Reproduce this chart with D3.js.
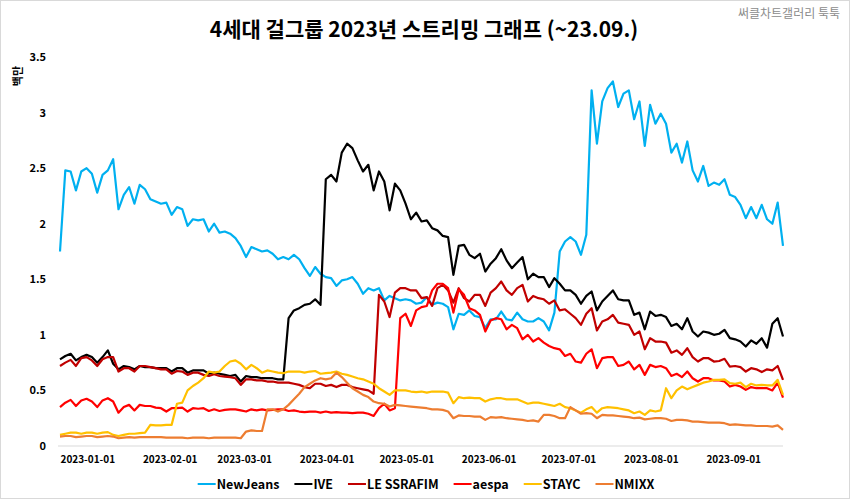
<!DOCTYPE html>
<html>
<head>
<meta charset="utf-8">
<script src="https://cdn.jsdelivr.net/npm/d3@7/dist/d3.min.js"></script>
<style>
  body { margin: 0; background: #fff; }
  svg { display: block; font-family: "Noto Sans CJK KR", "Noto Sans", sans-serif; }
</style>
</head>
<body>
<svg id="chart" width="850" height="499"></svg>
<script>
// daily streams (millions), read every 2nd day starting 2023-01-01
var startDate = '2023-01-01';
var endDate = '2023-09-30';
var dayStep = 2;

var newJeans = [
  1.75, 2.48, 2.47, 2.30, 2.47, 2.50, 2.45, 2.28, 2.44, 2.48,
  2.58, 2.13, 2.26, 2.33, 2.18, 2.35, 2.31, 2.22, 2.20, 2.18,
  2.19, 2.08, 2.15, 2.13, 1.98, 2.04, 2.03, 2.04, 1.93, 2.00,
  1.92, 1.93, 1.91, 1.87, 1.80, 1.70, 1.79, 1.77, 1.75, 1.76,
  1.73, 1.68, 1.70, 1.68, 1.72, 1.68, 1.60, 1.53, 1.61, 1.55,
  1.52, 1.51, 1.44, 1.49, 1.50, 1.52, 1.46, 1.37, 1.42, 1.40,
  1.42, 1.31, 1.35, 1.33, 1.31, 1.32, 1.31, 1.28, 1.29, 1.34,
  1.27, 1.29, 1.28, 1.25, 1.05, 1.19, 1.18, 1.22, 1.17, 1.16,
  1.06, 1.14, 1.14, 1.21, 1.14, 1.13, 1.20, 1.14, 1.12, 1.12,
  1.15, 1.12, 1.04, 1.20, 1.75, 1.84, 1.88, 1.84, 1.72, 1.90,
  3.20, 2.72, 3.10, 3.22, 3.28, 3.05, 3.17, 3.20, 2.94, 3.10,
  2.70, 3.07, 2.90, 2.99, 2.90, 2.64, 2.72, 2.55, 2.74, 2.48,
  2.38, 2.52, 2.34, 2.37, 2.35, 2.40, 2.26, 2.24, 2.17, 2.05,
  2.15, 2.05, 2.17, 2.04, 2.00, 2.19, 1.80
];
var ive = [
  0.78, 0.81, 0.83, 0.77, 0.80, 0.82, 0.80, 0.75, 0.80, 0.86,
  0.74, 0.69, 0.72, 0.71, 0.69, 0.72, 0.71, 0.71, 0.70, 0.70,
  0.70, 0.67, 0.70, 0.70, 0.66, 0.68, 0.68, 0.68, 0.65, 0.66,
  0.65, 0.64, 0.63, 0.64, 0.58, 0.63, 0.62, 0.62, 0.61, 0.61,
  0.61, 0.60, 0.60, 1.15, 1.22, 1.24, 1.27, 1.28, 1.32, 1.27,
  2.40, 2.44, 2.38, 2.64, 2.72, 2.68, 2.57, 2.47, 2.53, 2.30,
  2.47, 2.38, 2.12, 2.36, 2.30, 2.18, 2.04, 2.10, 2.02, 2.03,
  1.96, 1.94, 1.89, 1.88, 1.54, 1.80, 1.81, 1.72, 1.69, 1.73,
  1.57, 1.64, 1.69, 1.77, 1.67, 1.60, 1.65, 1.70, 1.50, 1.55,
  1.52, 1.52, 1.43, 1.51, 1.46, 1.40, 1.40, 1.36, 1.28, 1.35,
  1.39, 1.22, 1.30, 1.35, 1.40, 1.32, 1.31, 1.31, 1.18, 1.20,
  1.05, 1.21, 1.17, 1.18, 1.16, 1.08, 1.10, 1.05, 1.15, 1.03,
  0.985, 1.03, 1.02, 1.00, 1.01, 1.045, 0.97, 0.96, 0.94, 0.895,
  0.95, 0.92, 0.97, 0.885, 1.10, 1.15, 0.985
];
var leSserafim = [
  0.72, 0.75, 0.775, 0.72, 0.79, 0.80, 0.77, 0.72, 0.78, 0.80,
  0.80, 0.67, 0.70, 0.70, 0.67, 0.72, 0.72, 0.71, 0.70, 0.69,
  0.69, 0.65, 0.675, 0.67, 0.64, 0.66, 0.66, 0.64, 0.63, 0.645,
  0.63, 0.625, 0.62, 0.61, 0.55, 0.60, 0.60, 0.59, 0.59, 0.58,
  0.58, 0.57, 0.57, 0.57, 0.56, 0.55, 0.53, 0.52, 0.56, 0.56,
  0.54, 0.55, 0.53, 0.55, 0.55, 0.53, 0.52, 0.51, 0.50, 0.47,
  1.36, 1.30, 1.16, 1.38, 1.42, 1.42, 1.40, 1.40, 1.33, 1.34,
  1.26, 1.42, 1.45, 1.40, 1.29, 1.42, 1.33, 1.30, 1.36, 1.36,
  1.26, 1.38, 1.42, 1.48, 1.40, 1.36, 1.42, 1.45, 1.30, 1.35,
  1.33, 1.32, 1.28, 1.31, 1.22, 1.23, 1.19, 1.15, 1.09, 1.19,
  1.24, 1.04, 1.12, 1.14, 1.18, 1.11, 1.10, 1.09, 1.00, 1.03,
  0.87, 0.97, 0.94, 0.94, 0.93, 0.84, 0.86, 0.82, 0.88, 0.80,
  0.76, 0.79, 0.79, 0.76, 0.765, 0.785, 0.715, 0.72, 0.71, 0.67,
  0.70, 0.69, 0.665, 0.69, 0.68, 0.72, 0.595
];
var aespa = [
  0.35, 0.39, 0.415, 0.36, 0.41, 0.425, 0.40, 0.35, 0.41, 0.43,
  0.40, 0.30, 0.35, 0.37, 0.32, 0.37, 0.36, 0.36, 0.345, 0.34,
  0.31, 0.34, 0.34, 0.345, 0.31, 0.34, 0.335, 0.34, 0.315, 0.33,
  0.315, 0.325, 0.33, 0.33, 0.32, 0.31, 0.33, 0.32, 0.33, 0.32,
  0.325, 0.33, 0.33, 0.315, 0.32, 0.31, 0.305, 0.31, 0.31, 0.30,
  0.31, 0.30, 0.305, 0.30, 0.30, 0.295, 0.30, 0.30, 0.29, 0.27,
  0.34, 0.38, 0.32, 0.34, 1.15, 1.19, 1.08, 1.22, 1.25, 1.26,
  1.40, 1.46, 1.46, 1.42, 1.20, 1.41, 1.36, 1.24, 1.22, 1.18,
  1.03, 1.13, 1.15, 1.14, 1.05, 1.09, 1.06, 0.96, 1.00, 0.94,
  0.97, 0.93, 0.90, 0.88, 0.87, 0.81, 0.83, 0.76, 0.75, 0.83,
  0.87, 0.70, 0.79, 0.80, 0.80, 0.72, 0.73, 0.76, 0.69, 0.73,
  0.64, 0.73, 0.71, 0.72, 0.70, 0.63, 0.65, 0.62, 0.67, 0.61,
  0.58, 0.61, 0.61, 0.59, 0.59, 0.58, 0.535, 0.55, 0.535, 0.505,
  0.53, 0.52, 0.52, 0.52, 0.50, 0.57, 0.435
];
var stayc = [
  0.10, 0.11, 0.12, 0.12, 0.11, 0.12, 0.12, 0.11, 0.12, 0.125,
  0.10, 0.09, 0.10, 0.11, 0.11, 0.115, 0.12, 0.19, 0.185, 0.185,
  0.19, 0.19, 0.38, 0.39, 0.50, 0.54, 0.57, 0.61, 0.67, 0.66,
  0.67, 0.72, 0.76, 0.77, 0.74, 0.69, 0.73, 0.70, 0.66, 0.68,
  0.67, 0.66, 0.655, 0.67, 0.67, 0.67, 0.66, 0.67, 0.675, 0.65,
  0.655, 0.66, 0.67, 0.65, 0.64, 0.625, 0.61, 0.60, 0.58, 0.56,
  0.52, 0.49, 0.46, 0.50, 0.50, 0.50, 0.49, 0.485, 0.49, 0.48,
  0.49, 0.49, 0.49, 0.48, 0.385, 0.44, 0.43, 0.435, 0.43, 0.43,
  0.40, 0.42, 0.43, 0.43, 0.42, 0.42, 0.42, 0.40, 0.38, 0.39,
  0.39, 0.38, 0.37, 0.36, 0.38, 0.35, 0.34, 0.32, 0.30, 0.33,
  0.35, 0.30, 0.34, 0.35, 0.345, 0.34, 0.33, 0.32, 0.295, 0.31,
  0.28, 0.32, 0.31, 0.32, 0.52, 0.43, 0.50, 0.535, 0.51, 0.53,
  0.55, 0.57, 0.58, 0.595, 0.595, 0.60, 0.565, 0.56, 0.57, 0.53,
  0.56, 0.545, 0.55, 0.545, 0.545, 0.595, 0.46
];
var nmixx = [
  0.085, 0.09, 0.09, 0.08, 0.085, 0.09, 0.09, 0.08, 0.085, 0.09,
  0.085, 0.07, 0.075, 0.08, 0.075, 0.08, 0.08, 0.08, 0.08, 0.08,
  0.075, 0.075, 0.075, 0.075, 0.07, 0.075, 0.075, 0.075, 0.07, 0.075,
  0.075, 0.075, 0.075, 0.075, 0.07, 0.13, 0.14, 0.135, 0.135, 0.33,
  0.33, 0.31, 0.33, 0.37, 0.42, 0.47, 0.53, 0.56, 0.59, 0.61,
  0.60, 0.61, 0.66, 0.62, 0.57, 0.52, 0.49, 0.46, 0.44, 0.40,
  0.385, 0.38, 0.355, 0.37, 0.365, 0.36, 0.355, 0.35, 0.345, 0.34,
  0.33, 0.33, 0.325, 0.31, 0.25, 0.275, 0.27, 0.27, 0.265, 0.265,
  0.235, 0.26, 0.255, 0.26, 0.25, 0.245, 0.24, 0.235, 0.225, 0.23,
  0.22, 0.28, 0.28, 0.27, 0.25, 0.25, 0.35, 0.32, 0.29, 0.295,
  0.29, 0.25, 0.28, 0.275, 0.275, 0.27, 0.265, 0.26, 0.25, 0.255,
  0.24, 0.245, 0.25, 0.25, 0.245, 0.225, 0.235, 0.235, 0.23, 0.22,
  0.22, 0.215, 0.21, 0.21, 0.21, 0.205, 0.19, 0.195, 0.19, 0.185,
  0.185, 0.18, 0.18, 0.18, 0.175, 0.185, 0.145
];

var seriesNames = ['NewJeans', 'IVE', 'LE SSRAFIM', 'aespa', 'STAYC', 'NMIXX'];
var seriesValues = [newJeans, ive, leSserafim, aespa, stayc, nmixx];
var seriesColors = ['#00b0f0', '#000000', '#c00000', '#ff0000', '#ffc000', '#ed7d31'];

var yTicks = [0, 0.5, 1, 1.5, 2, 2.5, 3, 3.5];
var xTicks = ['2023-01-01', '2023-02-01', '2023-03-01', '2023-04-01', '2023-05-01',
              '2023-06-01', '2023-07-01', '2023-08-01', '2023-09-01'];

var titleText = '4세대 걸그룹 2023년 스트리밍 그래프 (~23.09.)';
var sourceText = '써클차트갤러리 툭툭';
var unitText = '백만';

var svg = d3.select('#chart');
var parse = d3.timeParse('%Y-%m-%d');
var t0 = parse(startDate);
var dates = newJeans.map(function(d, i){ return d3.timeDay.offset(t0, i * dayStep); });

var x = d3.scaleTime().domain([t0, parse(endDate)]).range([60, 783]);
var y = d3.scaleLinear().domain([0, 3.5]).range([446, 57]);

// outer frame
svg.append('rect')
   .attr('x', 0.5).attr('y', 0.5).attr('width', 849).attr('height', 498)
   .attr('fill', '#fff').attr('stroke', '#d9d9d9');

// title + source
svg.append('text')
   .attr('x', 424).attr('y', 37)
   .attr('text-anchor', 'middle')
   .style('font-size', '21px').style('font-weight', 'bold').style('fill', '#000')
   .text(titleText);

svg.append('text')
   .attr('x', 840).attr('y', 18)
   .attr('text-anchor', 'end')
   .style('font-size', '12px').style('fill', '#8c8c8c')
   .text(sourceText);

// baseline
svg.append('line')
   .attr('x1', 58).attr('x2', 783)
   .attr('y1', y(0)).attr('y2', y(0))
   .style('stroke', '#d9d9d9').style('stroke-width', 1);

// y axis labels
var yAxis = d3.axisLeft(y).tickValues(yTicks).tickSize(0).tickPadding(0)
              .tickFormat(function(d){ return String(d); });
var gy = svg.append('g').attr('transform', 'translate(46,0)').call(yAxis);
gy.select('.domain').remove();
gy.selectAll('text')
  .style('font-family', '"Noto Sans CJK KR", "Noto Sans", sans-serif')
  .style('font-size', '11px').style('font-weight', 'bold').style('fill', '#000');

svg.append('text')
   .attr('transform', 'translate(22,76) rotate(-90)')
   .attr('text-anchor', 'middle')
   .style('font-size', '11px').style('font-weight', 'bold')
   .text(unitText);

// x axis labels, left aligned on the month start
var xAxis = d3.axisBottom(x).tickValues(xTicks.map(parse)).tickSize(0).tickPadding(0)
              .tickFormat(d3.timeFormat('%Y-%m-%d'));
var gx = svg.append('g').attr('transform', 'translate(0,456)').call(xAxis);
gx.select('.domain').remove();
gx.selectAll('text')
  .attr('text-anchor', 'start').attr('dy', '0.71em')
  .style('font-family', '"Noto Sans CJK KR", "Noto Sans", sans-serif')
  .style('font-size', '10px').style('font-weight', 'bold').style('fill', '#000');

// lines
var line = d3.line()
  .x(function(d, i){ return x(dates[i]); })
  .y(function(d){ return y(d); });

seriesValues.forEach(function(vals, k){
  svg.append('path')
     .datum(vals)
     .attr('d', line)
     .style('fill', 'none')
     .style('stroke', seriesColors[k])
     .style('stroke-width', 2.2)
     .style('stroke-linejoin', 'round');
});

// legend
var lg = svg.append('g');
var lx = 0;
seriesNames.forEach(function(name, k){
  lg.append('line')
    .attr('x1', lx).attr('x2', lx + 18).attr('y1', 484).attr('y2', 484)
    .style('stroke', seriesColors[k]).style('stroke-width', 2);
  var t = lg.append('text')
    .attr('x', lx + 19).attr('y', 488.5)
    .style('font-size', '12.5px').style('font-weight', 'bold')
    .text(name);
  lx += 19 + t.node().getComputedTextLength() + 15;
});
lg.attr('transform', 'translate(' + (426 - (lx - 15) / 2) + ',0)');
</script>
</body>
</html>
